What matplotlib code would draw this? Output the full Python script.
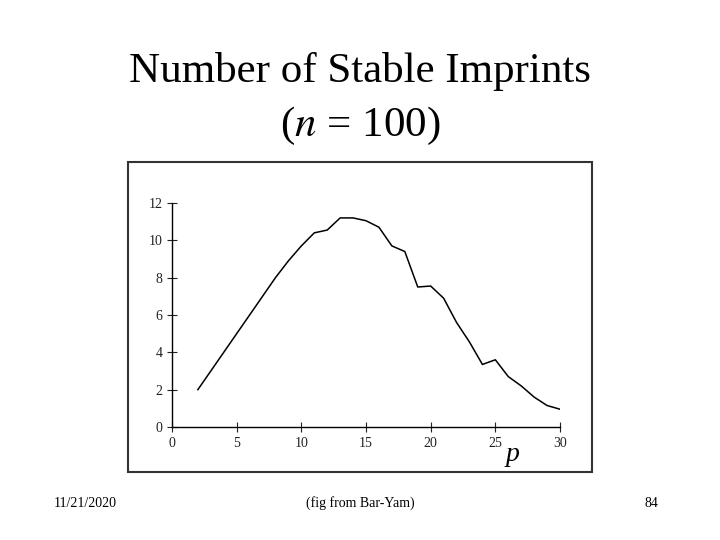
import matplotlib.pyplot as plt
from matplotlib.patches import Rectangle

p = list(range(2, 31))
imprints = [2.0, 3.0, 4.0, 5.0, 6.0, 7.0, 8.0, 8.9, 9.7, 10.4, 10.55, 11.2, 11.2,
            11.05, 10.7, 9.7, 9.4, 7.5, 7.55, 6.9, 5.6, 4.55, 3.35, 3.6, 2.7,
            2.2, 1.6, 1.15, 0.95]
xticks = [0, 5, 10, 15, 20, 25, 30]
yticks = [0, 2, 4, 6, 8, 10, 12]

fig = plt.figure(figsize=(7.2, 5.4), dpi=100)
serif = ['Liberation Serif', 'DejaVu Serif']

fig.text(0.5, 0.868, 'Number of Stable Imprints', ha='center', va='center',
         fontsize=31, family=serif)
fig.text(0.5, 0.767, r'($\it{n}$ = 100)', ha='center', va='center',
         fontsize=31, family=serif, math_fontfamily='stix')

fig.add_artist(Rectangle((0.178, 0.126), 0.644, 0.574, transform=fig.transFigure,
                         fill=False, edgecolor='#333333', linewidth=1.5))

ax = fig.add_axes([0.2389, 0.2093, 0.5389, 0.4148])
ax.plot(p, imprints, color='black', linewidth=1.1)
ax.set_xlim(0, 30)
ax.set_ylim(0, 12)
ax.set_xticks(xticks)
ax.set_yticks(yticks)
for s in ['top', 'right']:
    ax.spines[s].set_visible(False)
for s in ['left', 'bottom']:
    ax.spines[s].set_linewidth(1.0)
ax.tick_params(direction='inout', length=7, labelsize=10, colors='#222222')
for lab in ax.get_xticklabels() + ax.get_yticklabels():
    lab.set_family(serif)
ax.text(25.8, -1.5, 'p', fontsize=20, style='italic', family=serif,
        ha='left', va='center')

fig.text(0.075, 0.068, '11/21/2020', fontsize=10, family=serif, va='center')
fig.text(0.5, 0.068, '(fig from Bar-Yam)', fontsize=10, family=serif,
         ha='center', va='center')
fig.text(0.915, 0.068, '84', fontsize=10, family=serif, ha='right', va='center')

fig.savefig('out.png')
